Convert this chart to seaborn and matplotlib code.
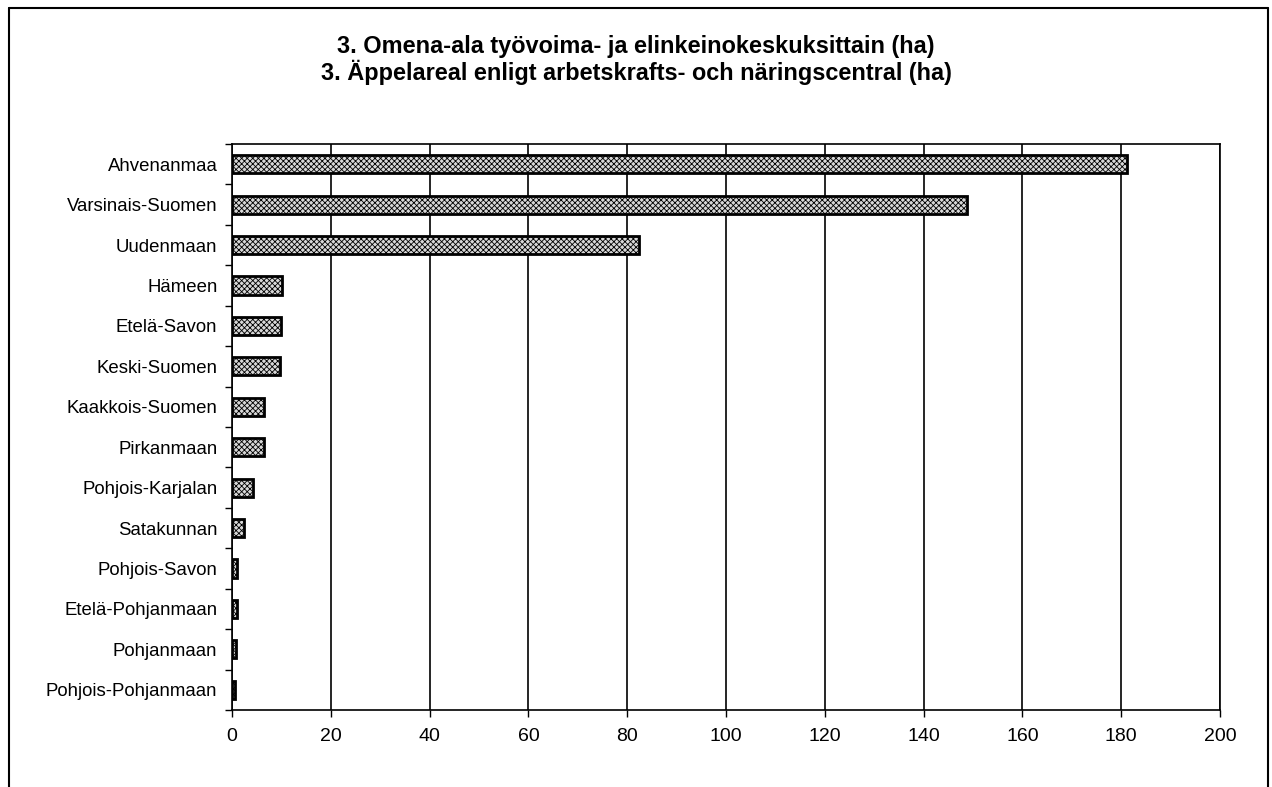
import matplotlib
matplotlib.use("Agg")
import matplotlib.pyplot as plt
import seaborn as sns
import pandas as pd
import numpy as np
from matplotlib.lines import Line2D

regions = ["Ahvenanmaa", "Varsinais-Suomen", "Uudenmaan", "Hämeen", "Etelä-Savon",
           "Keski-Suomen", "Kaakkois-Suomen", "Pirkanmaan", "Pohjois-Karjalan",
           "Satakunnan", "Pohjois-Savon", "Etelä-Pohjanmaan", "Pohjanmaan",
           "Pohjois-Pohjanmaan"]
area_ha = [181.2, 148.8, 82.4, 10.1, 10.0, 9.7, 6.5, 6.5, 4.3, 2.4, 1.1, 1.0, 0.9, 0.7]
x_ticks = [0, 20, 40, 60, 80, 100, 120, 140, 160, 180, 200]
title_fi = "3. Omena-ala työvoima- ja elinkeinokeskuksittain (ha)"
title_sv = "3. Äppelareal enligt arbetskrafts- och näringscentral (ha)"

sns.set_style("white")
plt.rcParams['font.family'] = ['Liberation Sans', 'DejaVu Sans']
plt.rcParams['hatch.linewidth'] = 0.6
plt.rcParams['text.color'] = 'black'
plt.rcParams['xtick.color'] = 'black'
plt.rcParams['ytick.color'] = 'black'
plt.rcParams['axes.labelcolor'] = 'black'

df = pd.DataFrame({"region": regions, "area": area_ha})

fig = plt.figure(figsize=(12.72, 7.87), dpi=100)
ax = fig.add_axes([232/1272, 1-710/787, (1220-232)/1272, (710-144)/787])

sns.barplot(data=df, x="area", y="region", orient="h", color="white",
            edgecolor="black", linewidth=2, width=0.45, ax=ax, zorder=3)
for p in ax.patches:
    p.set_hatch("xxxxxx")
    p.set_facecolor("#d8d8d8")

ax.set_xlim(0, 200)
ax.set_ylim(len(regions) - 0.5, -0.5)
ax.set_xticks(x_ticks)
ax.set_xticklabels([str(t) for t in x_ticks], fontsize=14)
ax.set_yticks(range(len(regions)))
ax.set_yticklabels(regions, fontsize=13.4)
ax.tick_params(axis='y', which='major', left=True, length=0, pad=10.5)
ax.set_yticks(np.arange(-0.5, len(regions), 1.0), minor=True)
ax.tick_params(axis='y', which='minor', left=True, length=5, width=1, direction='out', color='black')
ax.tick_params(axis='x', which='major', bottom=True, length=5, width=1, direction='out', color='black', pad=8)
ax.set_xlabel("")
ax.set_ylabel("")
ax.xaxis.grid(True, color="black", linewidth=1.2, zorder=0)
ax.set_axisbelow(True)
for s in ax.spines.values():
    s.set_visible(True)
    s.set_color("black")
    s.set_linewidth(1.2)

fig.text(0.5, 1-46/787, title_fi, ha="center", va="center", fontsize=16.9, fontweight="bold", color="black")
fig.text(0.5, 1-72/787, title_sv, ha="center", va="center", fontsize=16.9, fontweight="bold", color="black")

# outer frame
x0, x1 = 9/1272, 1268/1272
y0 = 1-8/787
fig.add_artist(Line2D([x0, x1], [y0, y0], color="black", linewidth=1.5, transform=fig.transFigure))
fig.add_artist(Line2D([x0, x0], [y0, 0], color="black", linewidth=1.5, transform=fig.transFigure))
fig.add_artist(Line2D([x1, x1], [y0, 0], color="black", linewidth=1.5, transform=fig.transFigure))

fig.savefig("out.png", dpi=100, facecolor="white")
